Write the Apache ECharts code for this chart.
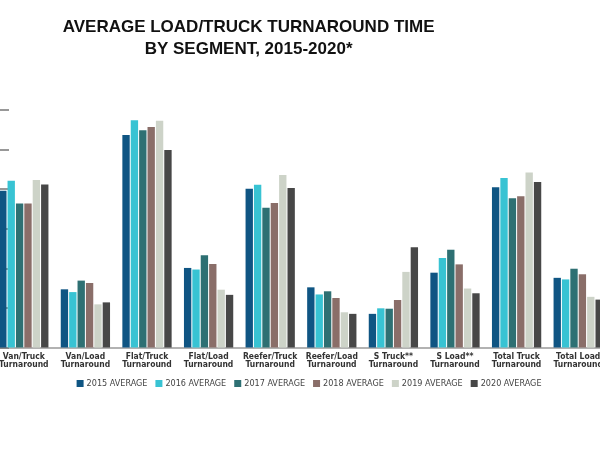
<!DOCTYPE html>
<html>
<head>
<meta charset="utf-8">
<script src="https://cdn.jsdelivr.net/npm/echarts@6/dist/echarts.min.js"></script>
<style>
  html, body { margin: 0; padding: 0; background: #fff; overflow: hidden; width: 600px; height: 450px; }
  #chart { position: absolute; left: -6.6px; top: 0; width: 616px; height: 450px; }
</style>
</head>
<body>
<div id="chart"></div>
<script>
const categories = [
  'Van/Truck\nTurnaround', 'Van/Load\nTurnaround', 'Flat/Truck\nTurnaround', 'Flat/Load\nTurnaround',
  'Reefer/Truck\nTurnaround', 'Reefer/Load\nTurnaround', 'S Truck**\nTurnaround', 'S Load**\nTurnaround',
  'Total Truck\nTurnaround', 'Total Load\nTurnaround'
];
const seriesNames = ['2015 AVERAGE', '2016 AVERAGE', '2017 AVERAGE', '2018 AVERAGE', '2019 AVERAGE', '2020 AVERAGE'];
const colors = ['#0f5583', '#38c3d3', '#2e7073', '#8a6e69', '#cdd3c8', '#474747'];

const avg2015 = [3.96, 1.47, 5.37, 2.01, 4.01, 1.52, 0.85, 1.89, 4.05, 1.76];
const avg2016 = [4.21, 1.40, 5.74, 1.97, 4.11, 1.34, 0.99, 2.26, 4.28, 1.72];
const avg2017 = [3.64, 1.69, 5.49, 2.33, 3.53, 1.42, 0.98, 2.47, 3.77, 1.99];
const avg2018 = [3.64, 1.63, 5.57, 2.11, 3.65, 1.25, 1.20, 2.10, 3.82, 1.85];
const avg2019 = [4.23, 1.09, 5.73, 1.46, 4.36, 0.89, 1.91, 1.49, 4.42, 1.28];
const avg2020 = [4.12, 1.14, 4.99, 1.33, 4.03, 0.85, 2.53, 1.37, 4.18, 1.21];

const allData = [avg2015, avg2016, avg2017, avg2018, avg2019, avg2020];

const narrow = "'Liberation Sans Narrow', 'DejaVu Sans Condensed', 'Roboto Condensed', 'Arial Narrow', 'Roboto', sans-serif";

const chart = echarts.init(document.getElementById('chart'));
chart.setOption({
  animation: false,
  title: {
    text: 'AVERAGE LOAD/TRUCK TURNAROUND TIME\nBY SEGMENT, 2015-2020*',
    left: 255.6,
    top: 16,
    padding: 0,
    textAlign: 'center',
    textStyle: {
      fontFamily: 'Liberation Sans',
      fontWeight: 'bold',
      fontSize: 17,
      lineHeight: 22,
      color: '#111'
    }
  },
  legend: {
    data: seriesNames,
    left: 83.6,
    top: 379,
    padding: 0,
    itemWidth: 7,
    itemHeight: 7,
    itemGap: 8,
    icon: 'rect',
    textStyle: {
      fontFamily: narrow,
      fontSize: 9,
      color: '#444',
      padding: [0, 0, 0, -2]
    }
  },
  grid: {
    left: 0,
    right: 0,
    top: 110,
    bottom: 102.5,
    containLabel: false
  },
  xAxis: {
    type: 'category',
    data: categories,
    axisLine: { lineStyle: { color: '#999', width: 1.5 } },
    axisTick: { inside: true, length: 5, lineStyle: { color: '#777' } },
    axisLabel: {
      interval: 0,
      margin: 5,
      fontFamily: narrow,
      fontWeight: 'bold',
      fontSize: 8.5,
      lineHeight: 8,
      color: '#333'
    }
  },
  yAxis: {
    type: 'value',
    min: 0,
    max: 6,
    interval: 1,
    axisLine: { show: false },
    axisTick: { show: true, inside: true, length: 16, lineStyle: { color: '#777', width: 1.5 } },
    axisLabel: { show: false },
    splitLine: { show: false }
  },
  series: seriesNames.map((name, i) => ({
    name: name,
    type: 'bar',
    data: allData[i],
    barGap: '14%',
    barCategoryGap: '20%',
    itemStyle: { color: colors[i] }
  }))
});
</script>
</body>
</html>
